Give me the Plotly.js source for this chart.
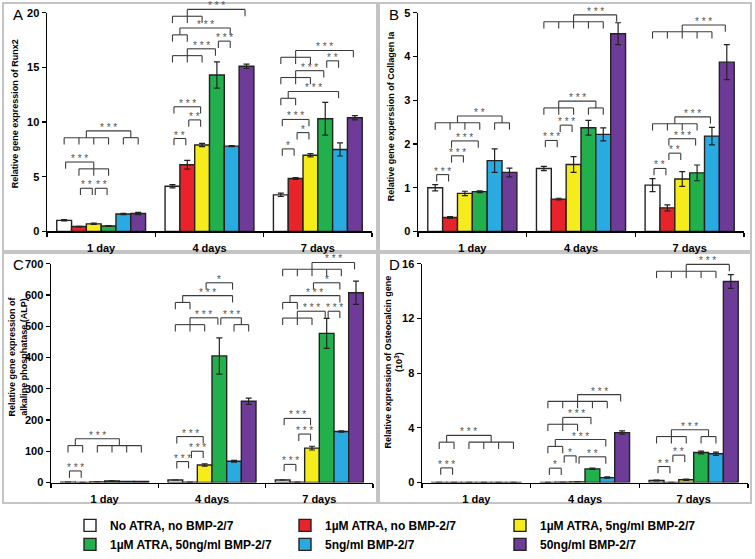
<!DOCTYPE html>
<html><head><meta charset="utf-8">
<script src="https://cdn.plot.ly/plotly-3.0.1.min.js"></script>
<style>html,body{margin:0;padding:0;background:#fff}#chart{width:755px;height:559px}</style>
</head><body><div id="chart"></div>
<script>
// ---------------- DATA ----------------
const categories = ['1 day', '4 days', '7 days'];
const seriesNames = ['No ATRA, no BMP-2/7', '1µM ATRA, no BMP-2/7', '1µM ATRA, 5ng/ml BMP-2/7',
                     '1µM ATRA, 50ng/ml BMP-2/7', '5ng/ml BMP-2/7', '50ng/ml BMP-2/7'];

// Panel A: Runx2 (one row per series, one column per category)
const runx2Values = [[1.02, 4.13, 3.35], [0.45, 6.1, 4.85], [0.7, 7.9, 6.97], [0.5, 14.3, 10.3], [1.6, 7.8, 7.5], [1.65, 15.1, 10.4]];
const runx2Errors = [[0.06, 0.15, 0.15], [0.03, 0.4, 0.08], [0.06, 0.15, 0.15], [0.03, 1.2, 1.5], [0.05, 0.05, 0.6], [0.1, 0.2, 0.2]];
// Panel B: Collagen Ia
const col1aValues = [[1.0, 1.44, 1.06], [0.32, 0.74, 0.54], [0.87, 1.53, 1.2], [0.91, 2.37, 1.34], [1.62, 2.22, 2.18], [1.35, 4.52, 3.87]];
const col1aErrors = [[0.07, 0.05, 0.15], [0.02, 0.02, 0.07], [0.05, 0.18, 0.17], [0.02, 0.17, 0.18], [0.27, 0.15, 0.2], [0.1, 0.25, 0.4]];
// Panel C: ALP
const alpValues = [[1, 8, 8], [0.5, 1, 1], [2, 56, 110], [5, 405, 477], [3, 68, 163], [3, 260, 607]];
const alpErrors = [[0, 0, 0], [0, 0, 0], [0, 4, 6], [0, 58, 48], [0, 3, 2], [0, 10, 37]];
// Panel D: Osteocalcin (x10^3)
const ocnValues = [[0.01, 0.01, 0.15], [0.01, 0.02, 0.01], [0.01, 0.05, 0.2], [0.01, 1.0, 2.2], [0.01, 0.36, 2.1], [0.01, 3.65, 14.7]];
const ocnErrors = [[0, 0, 0.03], [0, 0, 0], [0, 0, 0.05], [0, 0.05, 0.1], [0, 0.05, 0.12], [0, 0.12, 0.5]];

// Significance brackets: [category index, left bars, right bars, level, stars]
const runx2Brackets = [
  [0, [1], [2], 3.95, '**'], [0, [2], [3], 3.95, '**'], [0, [0], [1, 2, 3], 6.35, '***'], [0, [0, 1, 2, 3], [4, 5], 9.2, '***'],
  [1, [0], [1], 8.5, '**'], [1, [1], [2], 10.2, '**'], [1, [0], [2], 11.4, '***'], [1, [0, 1, 2], [3], 16.7, '***'],
  [1, [3], [4], 17.4, '***'], [1, [0, 1], [4], 18.6, '***'], [1, [0, 1, 2], [5], 20.3, '***'],
  [2, [0], [1], 7.55, '*'], [2, [1], [2], 9.04, '*'], [2, [0], [2], 10.24, '***'], [2, [0, 1], [4], 12.8, '***'],
  [2, [0, 1, 2], [3], 14.7, '***'], [2, [3], [4], 15.6, '**'], [2, [0, 1, 2], [5], 16.55, '***']
];
const col1aBrackets = [
  [0, [0], [1], 1.30, '***'], [0, [1], [2], 1.73, '***'], [0, [1], [3], 2.07, '***'], [0, [0, 1, 2, 3], [4, 5], 2.64, '**'],
  [1, [0], [1], 2.08, '***'], [1, [1], [2], 2.43, '***'], [1, [0, 1, 2], [3, 4], 2.98, '***'], [1, [0, 1, 2, 3, 4], [5], 4.95, '***'],
  [2, [0], [1], 1.44, '**'], [2, [1], [2], 1.79, '**'], [2, [1], [3], 2.12, '***'], [2, [0, 1, 2, 3], [4], 2.62, '***'],
  [2, [0, 1, 2, 3, 4], [5], 4.72, '***']
];
const alpBrackets = [
  [0, [0], [1], 37, '***'], [0, [0, 1], [2, 3, 4, 5], 140, '***'],
  [1, [0], [1], 67, '***'], [1, [1], [2], 100, '***'], [1, [0], [2], 147, '***'], [1, [0, 1, 2], [3], 527, '***'],
  [1, [3], [4, 5], 527, '***'], [1, [0, 1], [4], 598, '***'], [1, [2], [4], 639, '*'],
  [2, [0], [1], 58, '***'], [2, [1], [2], 155, '***'], [2, [0], [2], 205, '***'], [2, [0, 1, 2], [3], 548, '***'],
  [2, [3], [4], 548, '***'], [2, [0, 1], [4], 598, '***'], [2, [2], [4], 639, '*'], [2, [0, 1, 2, 3, 4], [5], 704, '***']
];
const ocnBrackets = [
  [0, [0], [1], 1.07, '***'], [0, [0, 1], [2, 3, 4, 5], 3.45, '***'],
  [1, [0], [1], 1.05, '*'], [1, [1], [2], 1.95, '*'], [1, [2], [4], 1.88, '**'], [1, [0, 1], [4], 3.14, '***'],
  [1, [0, 1, 2], [3], 4.76, '***'], [1, [0, 1, 2, 3, 4], [5], 6.43, '***'],
  [2, [0], [1], 1.17, '**'], [2, [1], [2], 2.0, '**'], [2, [0, 1, 2], [3, 4], 3.86, '***'], [2, [0, 1, 2, 3, 4], [5], 15.95, '***']
];

// ---------------- STYLE / LAYOUT ----------------
const W = 755, H = 559;
const colors = ['#ffffff', '#e8232a', '#f6ec1c', '#21b04b', '#29abe2', '#6f3b98'];
const FONT = 'Arial, "Liberation Sans", sans-serif';
const bracketColor = '#3c3c3c';
const gap = 0.18, nS = 6, bw = (1 - gap) / nS;

const panels = [
  {letter: 'A', values: runx2Values, errors: runx2Errors, brackets: runx2Brackets, ymax: 20, dtick: 5,
   title: 'Relative gene expression of Runx2', xd: [47, 372], yd: [13, 237], box: [3, 3, 377, 257], tpos: [15, 117]},
  {letter: 'B', values: col1aValues, errors: col1aErrors, brackets: col1aBrackets, ymax: 5, dtick: 1,
   title: 'Relative gene experssion of Collagen Ia', xd: [418, 744], yd: [13, 237], box: [379, 3, 751, 257], tpos: [391, 119]},
  {letter: 'C', values: alpValues, errors: alpErrors, brackets: alpBrackets, ymax: 700, dtick: 100,
   title: 'Relative gene expression of<br>alkaline phosphatase (ALP)', xd: [51, 373], yd: [270, 494], box: [3, 259, 377, 515], tpos: [18, 365]},
  {letter: 'D', values: ocnValues, errors: ocnErrors, brackets: ocnBrackets, ymax: 16, dtick: 4,
   title: 'Relative expression of Osteocalcin gene<br>(10<sup>3</sup>)', xd: [422, 748], yd: [270, 494], box: [379, 259, 751, 515], tpos: [394, 370]}
];

const traces = [], shapes = [], annotations = [];
const layout = {
  width: W, height: H, margin: {l: 0, r: 0, t: 0, b: 0}, paper_bgcolor: '#fff', plot_bgcolor: 'rgba(0,0,0,0)',
  barmode: 'group', bargap: gap, bargroupgap: 0, font: {family: FONT, color: '#000'},
  showlegend: true,
  legend: {orientation: 'h', x: 70 / W, xanchor: 'left', y: 1 - 523 / H, yanchor: 'top', entrywidth: 170, entrywidthmode: 'pixels',
           font: {family: FONT, size: 12, weight: 'bold', color: '#000'}, bgcolor: 'rgba(0,0,0,0)', traceorder: 'normal'},
  shapes: shapes, annotations: annotations
};

function barCenter(cat, i) { return cat - (1 - gap) / 2 + bw * (i + 0.5); }

panels.forEach((p, pi) => {
  const sfx = pi === 0 ? '' : String(pi + 1);
  const xa = 'x' + sfx, ya = 'y' + sfx;
  seriesNames.forEach((name, si) => {
    traces.push({
      type: 'bar', x: categories, y: p.values[si], name: name, xaxis: xa, yaxis: ya,
      showlegend: pi === 0, legendgroup: 's' + si,
      marker: {color: colors[si], line: {color: '#222', width: 1.4}},
      error_y: {type: 'data', array: p.errors[si], visible: true, color: '#222', thickness: 1.2, width: 3},
      hoverinfo: 'skip'
    });
  });
  const tickFont = {family: FONT, size: 11, weight: 'bold', color: '#000'};
  layout['xaxis' + sfx] = {
    domain: [p.xd[0] / W, p.xd[1] / W], anchor: ya, type: 'category', showline: true, linecolor: '#000', linewidth: 1.5,
    ticks: 'outside', tickson: 'boundaries', ticklen: 4, tickwidth: 1.2, tickcolor: '#000', tickfont: tickFont,
    ticklabelstandoff: 6, showgrid: false, zeroline: false, fixedrange: true
  };
  layout['yaxis' + sfx] = {
    domain: [1 - p.yd[1] / H, 1 - p.yd[0] / H], anchor: xa, range: [0, p.ymax], tick0: 0, dtick: p.dtick,
    showline: true, linecolor: '#000', linewidth: 1.5, ticks: 'outside', ticklen: 4, tickwidth: 1.2, tickcolor: '#000',
    tickfont: tickFont, showgrid: false, zeroline: false, fixedrange: true
  };
  // y-axis title as rotated text
  annotations.push({xref: 'paper', yref: 'paper', x: p.tpos[0] / W, y: 1 - p.tpos[1] / H, xanchor: 'center', yanchor: 'middle',
                    textangle: -90, text: p.title, showarrow: false, font: {family: FONT, size: 9, weight: 'bold', color: '#000'}});
  // panel frame
  shapes.push({type: 'rect', xref: 'paper', yref: 'paper', x0: p.box[0] / W, x1: p.box[2] / W,
               y0: 1 - p.box[3] / H, y1: 1 - p.box[1] / H, line: {color: '#c4c4c4', width: 2}, layer: 'below'});
  annotations.push({xref: 'paper', yref: 'paper', x: (p.box[0] + 8) / W, y: 1 - (p.box[1] + 12) / H, xanchor: 'left', yanchor: 'middle',
                    text: p.letter, showarrow: false, font: {family: FONT, size: 15, color: '#000'}});
  // brackets
  const d = p.ymax * 7 / 224;
  const Y = v => v / p.ymax;
  const seg = (x0, y0, x1, y1) => shapes.push({type: 'line', xref: xa, yref: ya + ' domain', x0: x0, y0: Y(y0), x1: x1, y1: Y(y1),
                                              line: {color: bracketColor, width: 1.1}});
  p.brackets.forEach(br => {
    const [cat, L, R, level, stars] = br;
    function side(bars, dir) {
      if (bars.length === 1) {
        const x = barCenter(cat, bars[0]) + dir * 0.1 * bw;
        seg(x, level, x, level - d);
        return x;
      }
      const xs = bars.map(b => barCenter(cat, b));
      const c = level - d;
      seg(xs[0], c, xs[xs.length - 1], c);
      xs.forEach(x => seg(x, c, x, c - d));
      const a = (xs[0] + xs[xs.length - 1]) / 2;
      seg(a, level, a, c);
      return a;
    }
    const aL = side(L, 1), aR = side(R, -1);
    seg(aL, level, aR, level);
    annotations.push({xref: xa, yref: ya + ' domain', x: (aL + aR) / 2, y: Y(level), yanchor: 'bottom', yshift: -4,
                      text: stars.split('').join(' '), showarrow: false, font: {family: FONT, size: 10, color: '#555'}});
  });
});

Plotly.newPlot('chart', traces, layout, {displayModeBar: false, staticPlot: true});
</script>
</body></html>
